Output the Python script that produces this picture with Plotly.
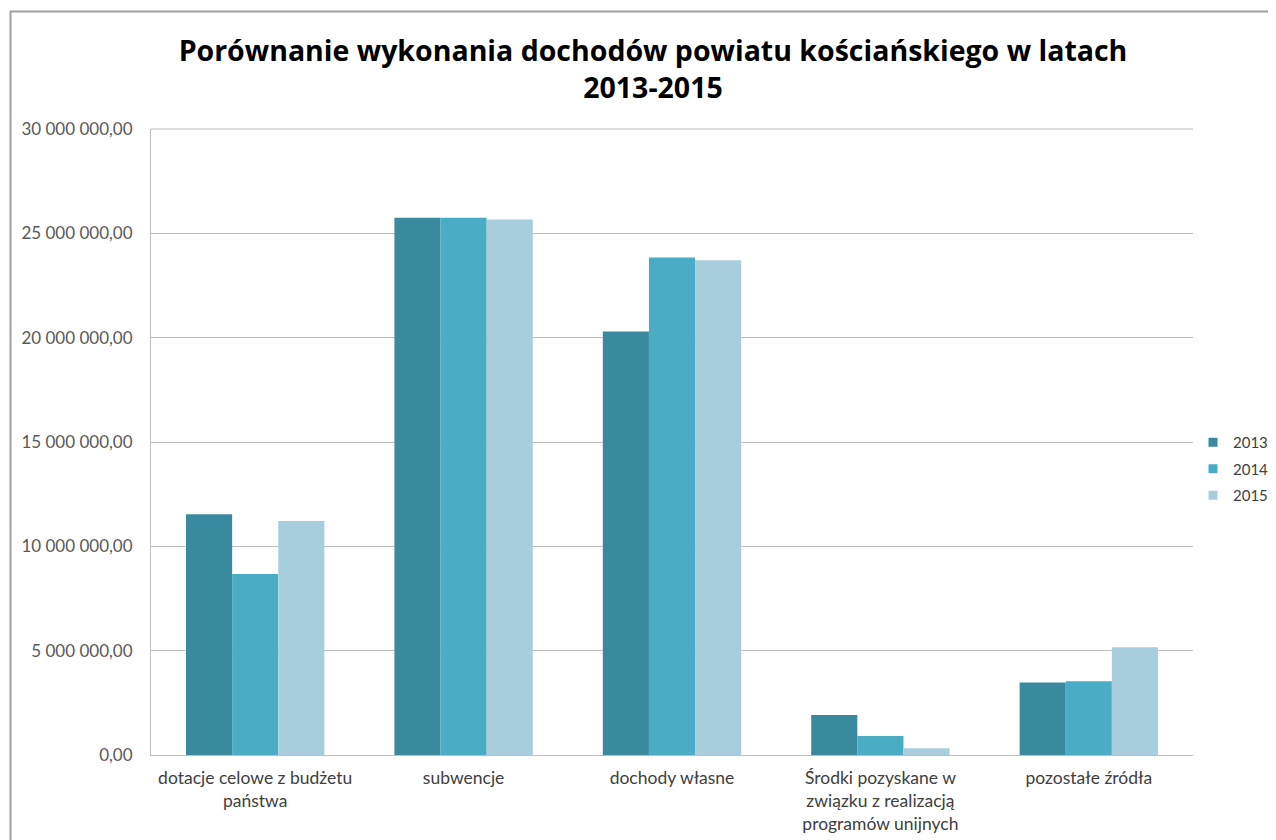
import plotly.graph_objects as go

categories = [
    "dotacje celowe z budżetu<br>państwa",
    "subwencje",
    "dochody własne",
    "Środki pozyskane w<br>związku z realizacją<br>programów unijnych",
    "pozostałe źródła",
]
years = ["2013", "2014", "2015"]
values_2013 = [11540000, 25750000, 20290000, 1920000, 3480000]
values_2014 = [8670000, 25750000, 23840000, 910000, 3540000]
values_2015 = [11220000, 25660000, 23710000, 320000, 5160000]
colors = ["#3A8A9F", "#4BACC6", "#A8CEDD"]
y_ticks = [0, 5000000, 10000000, 15000000, 20000000, 25000000, 30000000]

# page body has an 8px margin, so the figure is drawn in a 1268x832 box
OFF = 8
W, H = 1276 - OFF, 840 - OFF
L, R, T, B = 151 - OFF, 1193 - OFF, 129 - OFF, 755 - OFF

fig = go.Figure()
for name, vals, col in zip(years, [values_2013, values_2014, values_2015], colors):
    fig.add_trace(go.Bar(x=categories, y=vals, name=name, marker_color=col,
                         marker_line_width=0, showlegend=False))
for name, col in zip(years, colors):
    fig.add_trace(go.Scatter(x=[None], y=[None], mode="markers", name=name,
                             legendgroup=name,
                             marker=dict(symbol="square", size=9, color=col)))

pw, ph = R - L, B - T
def px_x(p):
    return (p - OFF - L) / pw
def px_y(p):
    return (B - (p - OFF)) / ph

bx0, by0, by1 = px_x(10.5), px_y(900), px_y(11.5)
bx1 = px_x(1400)
border_path = f"M {bx0},{by0} L {bx0},{by1} L {bx1},{by1}"

fig.update_layout(
    width=W, height=H,
    margin=dict(l=L, r=W - R, t=T, b=H - B, autoexpand=False),
    paper_bgcolor="white", plot_bgcolor="white",
    separators=", ",
    font=dict(family="Lato, Open Sans, sans-serif", color="#595959"),
    title=dict(
        text="Porównanie wykonania dochodów powiatu kościańskiego w latach<br>2013-2015",
        x=(653 - OFF) / W, xanchor="center", xref="container",
        y=1 - (61 - OFF) / H, yanchor="middle", yref="container",
        font=dict(family="Open Sans, sans-serif", size=28.5, color="#000000", weight="bold"),
    ),
    barmode="group", bargap=0.336, bargroupgap=0,
    showlegend=True,
    legend=dict(x=px_x(1193), y=px_y(469), xanchor="left", yanchor="middle",
                font=dict(size=15, color="#404040"), tracegroupgap=4,
                bgcolor="rgba(0,0,0,0)"),
    xaxis=dict(showgrid=False, showline=True, linecolor="#BFBFBF", linewidth=1,
               tickfont=dict(size=17.5, color="#404040"), ticklabelstandoff=7,
               ticks="", fixedrange=True),
    yaxis=dict(range=[0, 30000000], tickvals=y_ticks, tickformat=",.2f",
               showgrid=True, gridcolor="#BFBFBF", gridwidth=1,
               showline=True, linecolor="#BFBFBF", linewidth=1, zeroline=False,
               tickfont=dict(size=17, color="#595959"), ticklabelstandoff=14,
               ticks=""),
    shapes=[dict(type="path", xref="paper", yref="paper", path=border_path,
                 line=dict(color="#A0A0A0", width=2), layer="below"),
            dict(type="line", xref="paper", yref="paper", x0=0, x1=1, y0=1, y1=1,
                 line=dict(color="#BFBFBF", width=1))],
)

fig.write_html("out.html")
